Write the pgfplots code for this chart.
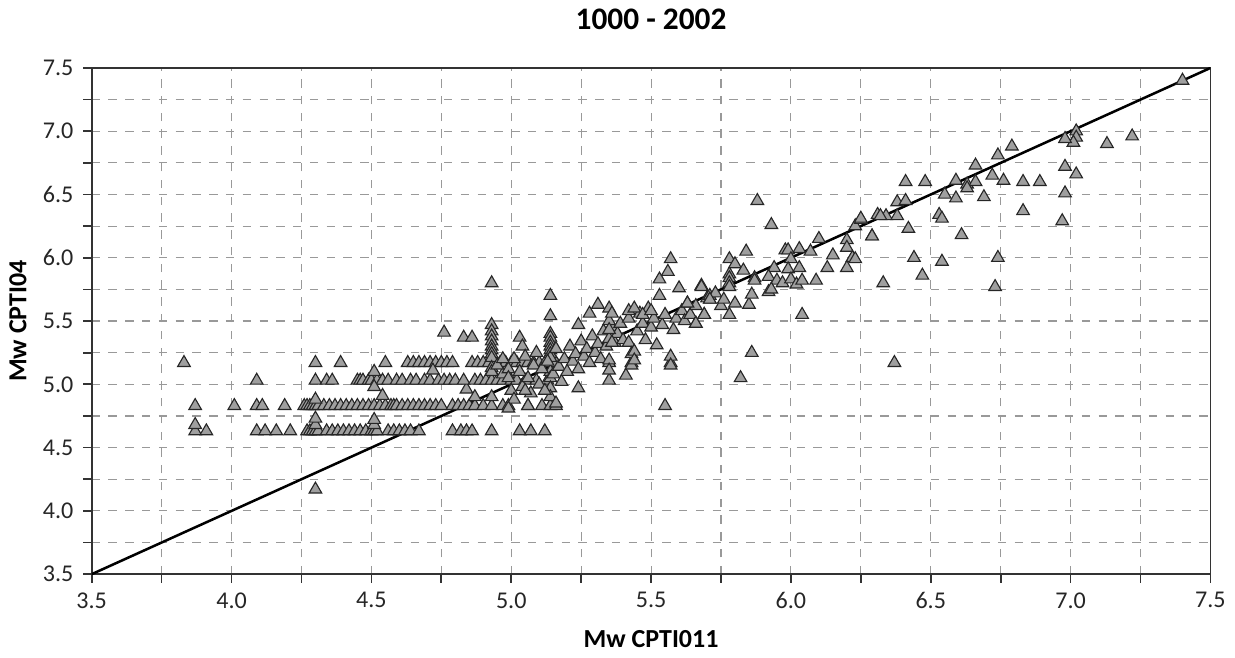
\documentclass[border=0pt]{standalone}
\usepackage{pgfplots}
\pgfplotsset{compat=1.18}
\usepackage{fontspec}
\setmainfont{Carlito}
\begin{document}
\begin{tikzpicture}
\begin{axis}[
  scale only axis,
  width=400pt, height=181pt,
  xmin=3.5, xmax=7.5, ymin=3.5, ymax=7.5,
  xtick={3.5,4,...,7.5}, ytick={3.5,4,...,7.5},
  minor xtick={3.75,4.25,...,7.25}, minor ytick={3.75,4.25,...,7.25},
  xtick pos=bottom, ytick pos=left,
  tick align=outside,
  major tick length=3pt, minor tick length=3pt,
  tick style={black!80, semithick},
  grid=both,
  major grid style={gray!80, dashed, thin},
  minor grid style={gray!80, dashed, thin},
  axis line style={black!80, semithick},
  /pgf/number format/assume math mode=true,
  /pgf/number format/.cd, fixed, fixed zerofill, precision=1,
  /pgfplots/.cd,
  ticklabel style={font=\fontsize{8.6}{10}\selectfont, black!85},
  xlabel={\textbf{Mw CPTI011}}, ylabel={\textbf{Mw CPTI04}},
  label style={font=\fontsize{9.3}{11}\selectfont},
  xlabel style={yshift=-1pt},
  ylabel style={yshift=-1pt},
  title={\textbf{1000 - 2002}},
  title style={font=\fontsize{11.2}{13}\selectfont, yshift=4pt},
]
\addplot[black, line width=0.9pt] coordinates {(3.5,3.5) (7.5,7.5)};
\addplot[only marks, mark=triangle*, mark size=2.6pt,
  mark options={fill=gray!75, draw=black!85, line width=0.4pt}] table {
x y
3.87 4.63
3.91 4.63
4.09 4.63
4.12 4.63
4.16 4.63
4.21 4.63
4.27 4.63
4.28 4.63
4.29 4.63
4.30 4.63
4.31 4.63
4.34 4.63
4.36 4.63
4.38 4.63
4.40 4.63
4.42 4.63
4.44 4.63
4.46 4.63
4.48 4.63
4.50 4.63
4.51 4.63
4.52 4.63
4.56 4.63
4.58 4.63
4.60 4.63
4.62 4.63
4.64 4.63
4.67 4.63
4.79 4.63
4.82 4.63
4.84 4.63
4.86 4.63
4.93 4.63
5.03 4.63
5.07 4.63
5.12 4.63
3.87 4.68
4.30 4.68
4.30 4.73
4.51 4.68
4.51 4.72
3.87 4.83
4.01 4.83
4.09 4.83
4.11 4.83
4.19 4.83
4.26 4.83
4.27 4.83
4.28 4.83
4.29 4.83
4.30 4.83
4.31 4.83
4.33 4.83
4.35 4.83
4.37 4.83
4.39 4.83
4.41 4.83
4.43 4.83
4.45 4.83
4.47 4.83
4.49 4.83
4.51 4.83
4.53 4.83
4.55 4.83
4.57 4.83
4.58 4.83
4.59 4.83
4.61 4.83
4.63 4.83
4.65 4.83
4.67 4.83
4.69 4.83
4.71 4.83
4.73 4.83
4.75 4.83
4.79 4.83
4.81 4.83
4.83 4.83
4.85 4.83
4.87 4.83
4.90 4.83
4.93 4.83
4.97 4.83
4.99 4.83
5.06 4.83
5.11 4.83
5.14 4.83
5.16 4.83
5.55 4.83
4.30 4.88
4.54 4.91
4.84 4.96
4.87 4.90
4.93 4.90
4.09 5.03
4.30 5.03
4.34 5.03
4.36 5.03
4.45 5.03
4.46 5.03
4.47 5.03
4.49 5.03
4.50 5.03
4.52 5.03
4.54 5.03
4.56 5.03
4.59 5.03
4.61 5.03
4.64 5.03
4.66 5.03
4.69 5.03
4.71 5.03
4.74 5.03
4.76 5.03
4.78 5.03
4.80 5.03
4.83 5.03
4.87 5.03
4.89 5.03
4.91 5.03
4.93 5.03
4.95 5.03
4.97 5.03
5.00 5.03
5.02 5.03
5.05 5.03
5.09 5.03
5.13 5.03
5.35 5.03
5.41 5.07
3.83 5.17
4.30 5.17
4.39 5.17
4.55 5.17
4.63 5.17
4.65 5.17
4.67 5.17
4.69 5.17
4.71 5.17
4.73 5.17
4.75 5.17
4.77 5.17
4.79 5.17
4.86 5.17
4.88 5.17
4.90 5.17
4.92 5.17
4.94 5.17
4.96 5.17
4.98 5.17
5.00 5.17
5.02 5.17
5.04 5.17
5.06 5.17
5.08 5.17
5.10 5.17
5.12 5.17
5.14 5.17
5.16 5.17
5.35 5.17
5.43 5.17
5.57 5.17
6.37 5.17
4.93 5.47
4.93 5.42
4.93 5.38
4.93 5.34
4.93 5.30
4.93 5.27
4.93 5.24
4.93 5.21
4.93 5.13
4.93 5.10
4.93 5.80
5.14 5.70
5.14 5.54
5.14 5.40
5.14 5.37
5.14 5.33
5.14 5.30
5.14 5.27
5.14 5.24
5.14 5.21
5.14 5.10
5.14 5.05
5.14 4.97
5.14 4.90
4.76 5.41
4.83 5.37
4.86 5.37
5.03 5.37
5.04 5.30
4.51 5.10
4.51 4.98
4.72 5.11
4.30 4.17
4.97 5.08
4.99 5.12
5.00 4.95
5.01 5.20
5.03 5.10
5.04 4.98
5.05 5.22
5.06 5.05
5.07 4.93
5.08 5.15
5.09 5.25
5.10 5.00
5.11 5.12
5.12 4.95
5.13 5.18
5.15 5.08
5.16 5.28
5.17 5.14
5.18 5.02
5.19 5.20
5.20 5.10
5.21 5.30
5.22 5.18
5.23 5.24
5.24 5.12
5.24 4.97
5.25 5.34
5.26 5.22
5.27 5.28
5.28 5.17
5.29 5.38
5.30 5.25
5.31 5.32
5.32 5.20
5.33 5.42
5.34 5.30
5.35 5.36
5.35 5.19
5.35 5.11
5.36 5.45
5.37 5.33
5.38 5.40
5.39 5.48
5.40 5.35
5.42 5.33
5.42 5.52
5.43 5.24
5.43 5.15
5.44 5.26
5.44 5.19
5.45 5.42
5.46 5.56
5.47 5.48
5.48 5.35
5.49 5.60
5.50 5.45
5.51 5.52
5.52 5.31
5.53 5.70
5.53 5.83
5.54 5.47
5.55 5.55
5.56 5.89
5.57 5.99
5.57 5.22
5.57 5.15
5.58 5.43
5.59 5.52
5.60 5.76
5.61 5.58
5.62 5.50
5.63 5.64
5.64 5.55
5.66 5.48
5.66 5.62
5.68 5.78
5.68 5.77
5.69 5.55
5.70 5.68
5.71 5.70
5.71 5.67
5.73 5.72
5.75 5.62
5.24 5.47
5.28 5.56
5.31 5.63
5.35 5.60
5.35 5.50
5.35 5.43
5.36 5.56
5.36 5.33
5.42 5.58
5.44 5.60
5.47 5.55
5.50 5.58
5.01 4.88
5.05 4.95
5.16 4.85
4.99 4.81
5.06 4.83
4.95 5.15
4.97 5.20
4.99 5.05
5.88 6.45
5.93 6.26
5.78 5.99
5.80 5.95
5.84 6.05
5.78 5.87
5.78 5.84
5.78 5.80
5.83 5.90
5.98 6.06
5.99 6.06
6.00 5.99
6.03 6.07
6.07 6.05
6.10 6.15
5.94 5.92
5.87 5.84
5.99 5.91
6.03 5.92
5.87 5.82
5.92 5.85
5.95 5.82
5.97 5.80
6.00 5.83
6.02 5.79
6.04 5.82
6.09 5.82
6.13 5.92
6.15 6.02
6.20 6.14
6.20 6.08
6.22 6.00
6.23 5.99
6.20 5.92
6.23 6.25
6.25 6.30
6.29 6.17
6.31 6.34
6.34 6.33
6.33 5.80
5.76 5.67
5.80 5.64
5.85 5.63
5.86 5.71
5.92 5.73
5.93 5.75
5.78 5.77
5.78 5.55
5.69 5.55
5.66 5.48
5.71 5.67
5.63 5.64
6.04 5.55
5.86 5.25
5.82 5.05
7.02 7.00
7.02 6.95
7.01 6.91
6.98 6.94
7.13 6.90
6.79 6.88
6.74 6.81
6.66 6.73
6.98 6.72
7.02 6.66
6.59 6.61
6.63 6.58
6.66 6.60
6.63 6.55
6.72 6.65
6.76 6.61
6.83 6.60
6.89 6.60
6.98 6.51
6.97 6.29
6.83 6.37
6.69 6.48
6.55 6.50
6.59 6.47
6.53 6.34
6.54 6.31
6.61 6.18
6.41 6.60
6.48 6.60
6.38 6.44
6.41 6.45
6.32 6.33
6.38 6.33
6.25 6.31
6.42 6.23
6.29 6.17
6.44 6.00
6.47 5.86
6.54 5.97
6.74 6.00
6.73 5.77
7.22 6.96
7.40 7.40
};
\end{axis}
\end{tikzpicture}
\end{document}
